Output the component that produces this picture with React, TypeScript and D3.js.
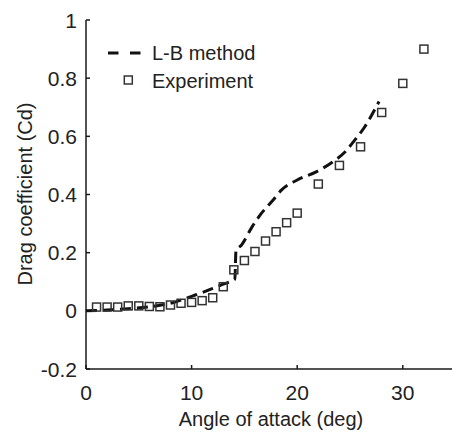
import React from "react";
import * as d3 from "d3";

const expAngle = [1, 2, 3, 4, 5, 6, 7, 8, 9, 10, 11, 12, 13, 14, 15, 16, 17, 18, 19, 20, 22, 24, 26, 28, 30, 32];
const expCd = [0.013, 0.013, 0.013, 0.017, 0.017, 0.015, 0.014, 0.02, 0.026, 0.029, 0.035, 0.045, 0.083, 0.141, 0.173, 0.204, 0.24, 0.272, 0.303, 0.336, 0.436, 0.5, 0.564, 0.682, 0.782, 0.9];

const lbAngle = [0, 2, 4, 6, 7, 8, 9, 10, 11, 12, 13, 14.1, 14.2, 14.74, 15.7, 16.5, 17.7, 18.5, 20, 21.8, 23.4, 24.5, 25.3, 26.4, 27.75];
const lbCd = [0, 0.003, 0.007, 0.014, 0.019, 0.026, 0.037, 0.05, 0.063, 0.077, 0.092, 0.109, 0.205, 0.227, 0.287, 0.33, 0.38, 0.415, 0.45, 0.478, 0.513, 0.545, 0.58, 0.633, 0.72];

const xTicks = [0, 10, 20, 30];
const yTicks = [-0.2, 0, 0.2, 0.4, 0.6, 0.8, 1];
const yTickLabels = ["-0.2", "0", "0.2", "0.4", "0.6", "0.8", "1"];

const FONT = "'Liberation Sans', Arial, sans-serif";

export default function App() {
  const x = d3.scaleLinear().domain([0, 35]).range([86, 455.6]);
  const y = d3.scaleLinear().domain([-0.2, 1]).range([369, 20]);
  const lbPts: [number, number][] = lbAngle.map((a, i) => [a, lbCd[i]]);
  const line = d3
    .line<[number, number]>()
    .x((d) => x(d[0]))
    .y((d) => y(d[1]))
    .curve(d3.curveMonotoneX);
  const sq = 8;
  const axisColor = "#1a1a1a";
  return (
    <svg
      width={452}
      height={433}
      style={{ position: "absolute", left: 0, top: 0, background: "#fff" }}
      fontFamily={FONT}
    >
      <rect x={0} y={0} width={452} height={433} fill="#fff" />
      {/* axes */}
      <line x1={x(0)} y1={y(-0.2)} x2={x(0)} y2={y(1)} stroke={axisColor} strokeWidth={1.5} />
      <line x1={x(0)} y1={y(-0.2)} x2={x(35)} y2={y(-0.2)} stroke={axisColor} strokeWidth={1.5} />
      {yTicks.map((t, i) => (
        <g key={"y" + i}>
          <line x1={x(0)} x2={x(0) + 4} y1={y(t)} y2={y(t)} stroke={axisColor} strokeWidth={1.5} />
          <text x={77} y={y(t)} dy="0.36em" textAnchor="end" fontSize={21} fill="#222">
            {yTickLabels[i]}
          </text>
        </g>
      ))}
      {xTicks.map((t) => (
        <g key={"x" + t}>
          <line x1={x(t)} x2={x(t)} y1={y(-0.2)} y2={y(-0.2) - 4} stroke={axisColor} strokeWidth={1.5} />
          <text x={x(t)} y={399.5} textAnchor="middle" fontSize={21} fill="#222">
            {t}
          </text>
        </g>
      ))}
      <text x={271} y={426} textAnchor="middle" fontSize={20} fill="#222">
        Angle of attack (deg)
      </text>
      <text
        transform={`translate(31.5, 194) rotate(-90)`}
        textAnchor="middle"
        fontSize={20}
        fill="#222"
      >
        Drag coefficient (Cd)
      </text>
      {/* L-B curve */}
      <path
        d={line(lbPts) || ""}
        fill="none"
        stroke="#111"
        strokeWidth={3}
        strokeDasharray="11,6"
      />
      {/* experiment squares */}
      {expAngle.map((a, i) => (
        <rect
          key={"e" + i}
          x={x(a) - sq / 2}
          y={y(expCd[i]) - sq / 2}
          width={sq}
          height={sq}
          fill="none"
          stroke="#333"
          strokeWidth={1.5}
        />
      ))}
      {/* legend */}
      <line x1={108} x2={141} y1={53} y2={53} stroke="#111" strokeWidth={3} strokeDasharray="10.5,11.5" />
      <text x={152} y={60} fontSize={20} fill="#222">
        L-B method
      </text>
      <rect x={128.3 - sq / 2} y={80 - sq / 2} width={sq} height={sq} fill="none" stroke="#333" strokeWidth={1.5} />
      <text x={152} y={88.3} fontSize={20} fill="#222">
        Experiment
      </text>
    </svg>
  );
}
